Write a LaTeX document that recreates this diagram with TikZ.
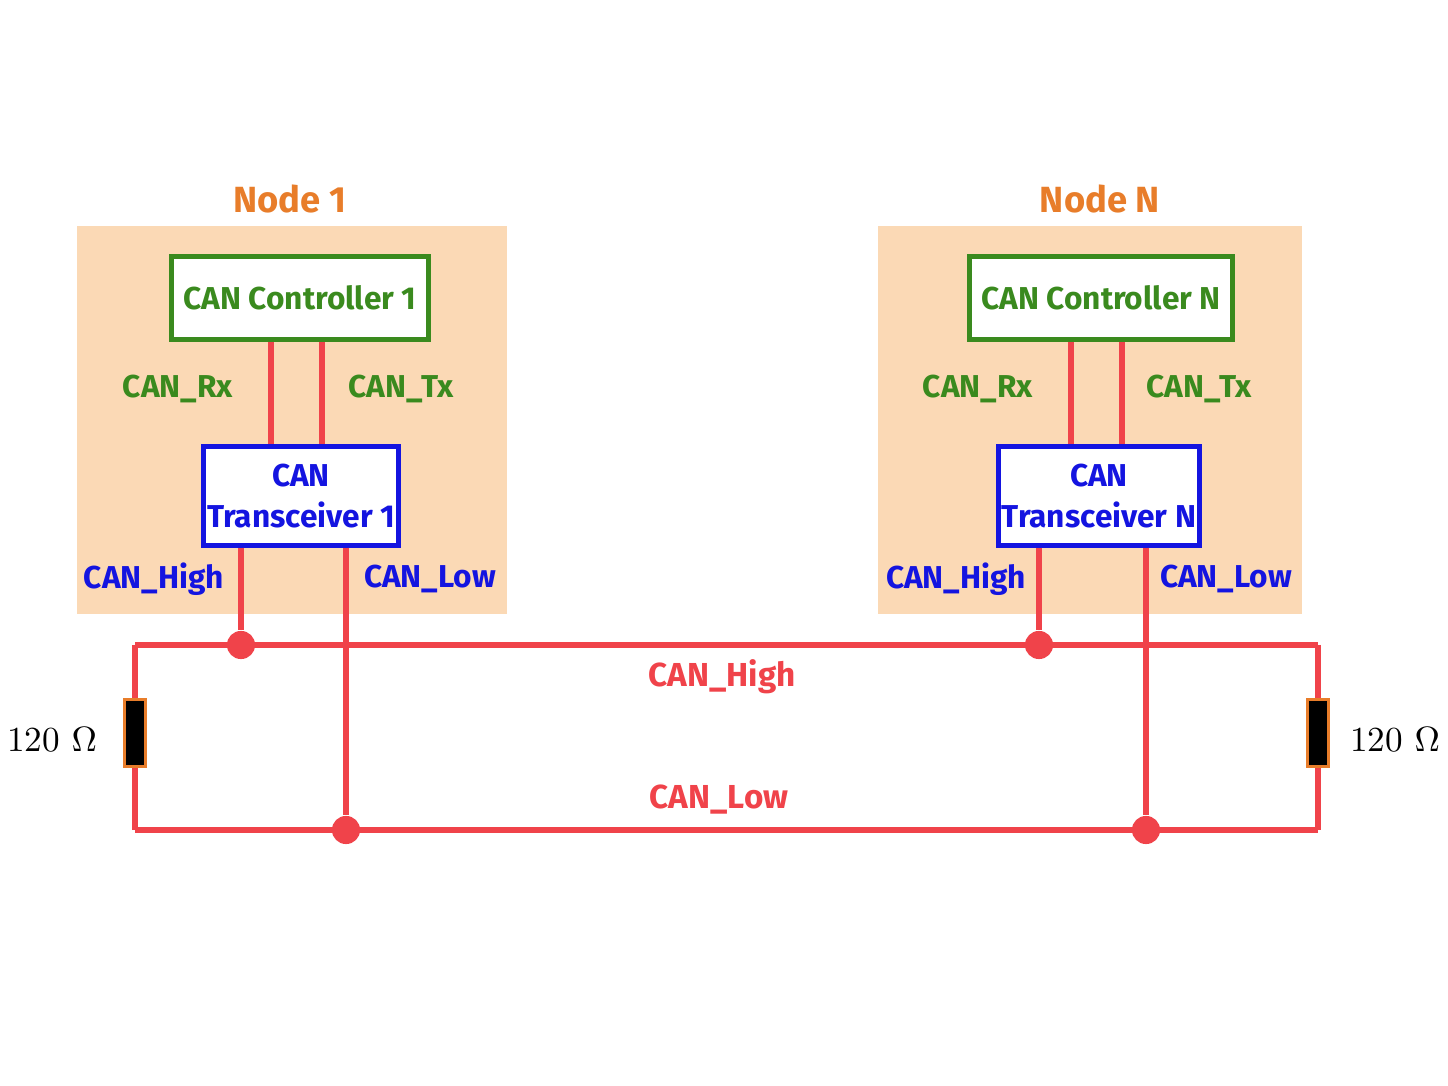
\documentclass[tikz,border=0pt]{standalone}
\usepackage{fontspec}
\setsansfont{Fira Sans}
\usepackage{tikz}
\usetikzlibrary{positioning}
\definecolor{peach}{HTML}{FBD9B5}
\definecolor{busred}{HTML}{F0434A}
\definecolor{ctlgreen}{HTML}{3A8A1E}
\definecolor{trblue}{HTML}{1414E0}
\definecolor{nodeorange}{HTML}{E87D2A}
\tikzset{
  lbl/.style={font=\sffamily\bfseries\fontsize{9}{11.5}\selectfont},
  ctl/.style={lbl,draw=ctlgreen,text=ctlgreen,line width=1.3pt,fill=white,minimum width=71pt,minimum height=23.5pt},
  trx/.style={lbl,draw=trblue,text=trblue,line width=1.3pt,fill=white,minimum width=54pt,minimum height=28pt,align=center,inner sep=1pt},
  wire/.style={busred,line width=1.9pt},
  dot/.style={circle,fill=busred,inner sep=0pt,minimum size=8pt},
  res/.style={draw=nodeorange,fill=black,line width=0.8pt,minimum width=6pt,minimum height=19pt,inner sep=0pt}
}
\begin{document}
\begin{tikzpicture}[x=0.01cm,y=-0.01cm]
\useasboundingbox (0,0) rectangle (1448,1086);
\fill[white] (0,0) rectangle (1448,1086);
% node backgrounds
\fill[peach] (77,226) rectangle (507,614);
\fill[peach] (878,226) rectangle (1302,614);
\node[lbl,text=nodeorange,scale=1.15] (T1) at (290,199) {Node 1};
\node[lbl,text=nodeorange,scale=1.15] (TN) at (1100,199) {Node N};

% bus
\coordinate (HL) at (135,645); \coordinate (HR) at (1318,645);
\coordinate (LL) at (135,830); \coordinate (LR) at (1318,830);
\node[res] (R1) at (135,733) {};
\node[res] (RN) at (1318,733) {};
\draw[wire] (HL)--(R1)--(LL) (HR)--(RN)--(LR);
\draw[wire] (HL)--(HR) (LL)--(LR);
\node[res] at (135,733) {};
\node[res] at (1318,733) {};
\node[lbl,text=busred,scale=1.05] (BH) at (722,677) {CAN\_High};
\node[lbl,text=busred,scale=1.05] (BL) at (719,800) {CAN\_Low};
\node[font=\fontsize{10}{12}\selectfont] (O1) at (52,740) {120 $\Omega$};
\node[font=\fontsize{10}{12}\selectfont] (ON) at (1395,740) {120 $\Omega$};

% node 1
\node[ctl] (C1) at (300,298) {CAN Controller 1};
\node[trx] (X1) at (301,496) {CAN\\Transceiver 1};
\draw[wire] (C1.south-|271,0)--(X1.north-|271,0);
\draw[wire] (C1.south-|322,0)--(X1.north-|322,0);
\node[lbl,text=ctlgreen] (RX1) at (178,389) {CAN\_Rx};
\node[lbl,text=ctlgreen] (TX1) at (401,389) {CAN\_Tx};
\node[dot] (D1H) at (241,645) {};
\node[dot] (D1L) at (346,830) {};
\draw[wire] (X1.south-|D1H)--(D1H);
\draw[wire] (X1.south-|D1L)--(D1L);
\node[lbl,text=trblue] (H1) at (154,579) {CAN\_High};
\node[lbl,text=trblue] (L1) at (430,579) {CAN\_Low};

% node N
\node[ctl] (CN) at (1101,298) {CAN Controller N};
\node[trx] (XN) at (1099,496) {CAN\\Transceiver N};
\draw[wire] (CN.south-|1071,0)--(XN.north-|1071,0);
\draw[wire] (CN.south-|1122,0)--(XN.north-|1122,0);
\node[lbl,text=ctlgreen] (RXN) at (978,389) {CAN\_Rx};
\node[lbl,text=ctlgreen] (TXN) at (1199,389) {CAN\_Tx};
\node[dot] (DNH) at (1039,645) {};
\node[dot] (DNL) at (1146,830) {};
\draw[wire] (XN.south-|DNH)--(DNH);
\draw[wire] (XN.south-|DNL)--(DNL);
\node[lbl,text=trblue] (HN) at (956,579) {CAN\_High};
\node[lbl,text=trblue] (LN) at (1226,579) {CAN\_Low};
\end{tikzpicture}
\end{document}
